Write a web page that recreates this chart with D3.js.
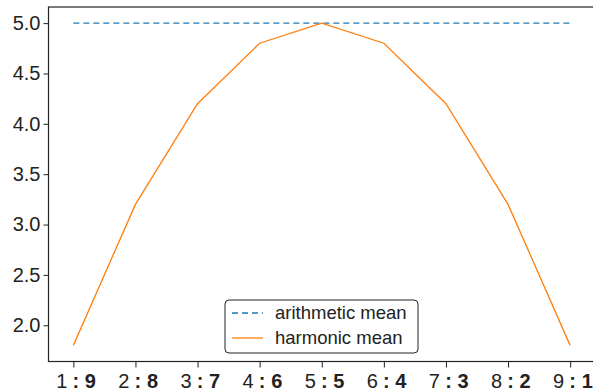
<!DOCTYPE html>
<html><head><meta charset="utf-8">
<script src="https://cdn.jsdelivr.net/npm/d3@7"></script>
<style>body{margin:0;background:#fff}svg{display:block}text{font-family:"Liberation Sans",Arial,sans-serif;fill:#222}</style>
</head><body><svg id="c" width="593" height="391"></svg>
<script>
const aValues = [1,2,3,4,5,6,7,8,9];
const bValues = [9,8,7,6,5,4,3,2,1];
const arithmetic = [5,5,5,5,5,5,5,5,5];
const harmonic = [1.8,3.2,4.2,4.8,5.0,4.8,4.2,3.2,1.8];
const yTicks = [2.0,2.5,3.0,3.5,4.0,4.5,5.0];
const seriesNames = ["arithmetic mean","harmonic mean"];
const colors = ["#1f77b4","#ff7f0e"];

const svg = d3.select("#c");
const L=48.5, R=595, T=7, B=361.5;
const x = d3.scaleLinear().domain([0.6,9.4]).range([L,R]);
const y = d3.scaleLinear().domain([1.64,5.16]).range([B,T]);

// frame
svg.append("rect").attr("x",L).attr("y",T).attr("width",R-L).attr("height",B-T)
  .attr("fill","none").attr("stroke","#222").attr("stroke-width",1.2);

// y axis
const ya = svg.append("g").attr("transform",`translate(${L},0)`)
  .call(d3.axisLeft(y).tickValues(yTicks).tickFormat(d3.format(".1f")).tickSize(5).tickPadding(3));
ya.select(".domain").remove();
ya.selectAll("line").attr("stroke","#222");
ya.selectAll("text").attr("font-size","20px").attr("fill","#222").attr("font-family","Liberation Sans, Arial, sans-serif");

// x axis
const xa = svg.append("g").attr("transform",`translate(0,${B})`)
  .call(d3.axisBottom(x).tickValues(aValues).tickFormat("").tickSize(6));
xa.select(".domain").remove();
xa.selectAll("line").attr("stroke","#222");
xa.selectAll(".tick").each(function(d,i){
  const g = d3.select(this);
  g.append("text").attr("x",-6.5).attr("y",26).attr("text-anchor","end")
    .attr("font-size","20px").text(aValues[i]);
  g.append("text").attr("x",2).attr("y",26).attr("text-anchor","middle")
    .attr("font-size","20px").attr("font-weight","bold").text(":");
  g.append("text").attr("x",11).attr("y",26).attr("text-anchor","start")
    .attr("font-size","20px").attr("font-weight","bold").text(bValues[i]);
});

const line = d3.line().x((d,i)=>x(aValues[i])).y(d=>y(d));
svg.append("path").datum(arithmetic).attr("d",line).attr("fill","none")
  .attr("stroke",colors[0]).attr("stroke-width",1.3).attr("stroke-dasharray","6,4");
svg.append("path").datum(harmonic).attr("d",line).attr("fill","none")
  .attr("stroke",colors[1]).attr("stroke-width",1.3);

// legend
const lg = svg.append("g");
lg.append("rect").attr("x",225).attr("y",300).attr("width",193).attr("height",53).attr("rx",4)
  .attr("fill","#fff").attr("stroke","#222").attr("stroke-width",1);
seriesNames.forEach((n,i)=>{
  const yy = 313 + i*25;
  lg.append("line").attr("x1",232).attr("x2",263).attr("y1",yy).attr("y2",yy)
    .attr("stroke",colors[i]).attr("stroke-width",1.3).attr("stroke-dasharray",i===0?"6,4":null);
  lg.append("text").attr("x",275).attr("y",yy).attr("dy","0.35em").attr("font-size","18.5px").text(n);
});
</script></body></html>
